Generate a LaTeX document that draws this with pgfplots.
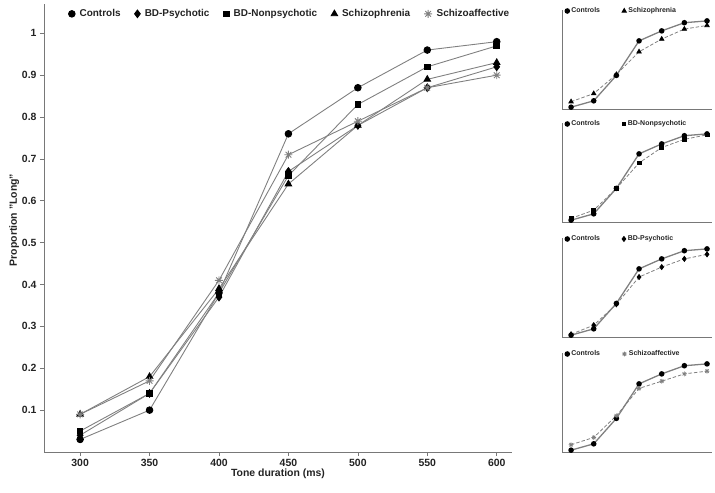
\documentclass[border=0pt]{standalone}
\usepackage{pgfplots}
\pgfplotsset{compat=1.18}
\usepackage{fontspec}
\setmainfont{Liberation Sans}
\definecolor{linegray}{RGB}{128,128,128}
\definecolor{axgray}{RGB}{120,120,120}
\definecolor{txt}{RGB}{35,35,35}
\pgfdeclareplotmark{star8}{%
  \pgfpathmoveto{\pgfqpoint{0pt}{\pgfplotmarksize}}\pgfpathlineto{\pgfqpoint{0pt}{-\pgfplotmarksize}}%
  \pgfpathmoveto{\pgfqpoint{\pgfplotmarksize}{0pt}}\pgfpathlineto{\pgfqpoint{-\pgfplotmarksize}{0pt}}%
  \pgfpathmoveto{\pgfqpoint{0.7071\pgfplotmarksize}{0.7071\pgfplotmarksize}}\pgfpathlineto{\pgfqpoint{-0.7071\pgfplotmarksize}{-0.7071\pgfplotmarksize}}%
  \pgfpathmoveto{\pgfqpoint{0.7071\pgfplotmarksize}{-0.7071\pgfplotmarksize}}\pgfpathlineto{\pgfqpoint{-0.7071\pgfplotmarksize}{0.7071\pgfplotmarksize}}%
  \pgfusepathqstroke}

\pgfplotstableread{
x    C     BDP   BDN   SZ    SA
300  0.03  0.04  0.05  0.09  0.09
350  0.10  0.14  0.14  0.18  0.17
400  0.38  0.37  0.38  0.39  0.41
450  0.76  0.67  0.66  0.64  0.71
500  0.87  0.78  0.83  0.78  0.79
550  0.96  0.87  0.92  0.89  0.87
600  0.98  0.92  0.97  0.93  0.90
}\data

\pgfplotsset{
  common/.style={
    scale only axis,
    axis x line*=bottom, axis y line*=left,
    axis line style={axgray, line width=0.8pt},
    legend image code/.code={\draw[##1] plot[only marks] coordinates {(0.08cm,0cm)};},
    legend style={draw=none, fill=none, inner sep=0pt, text=txt},
  },
  panel/.style={common,
    width=150bp, height=99bp,
    xmin=280, xmax=611, ymin=0.01, ymax=1.1,
    xtick=\empty, ytick=\empty,
    legend columns=2,
    legend style={at={(0.02,0.99)}, anchor=west, font=\fontsize{7}{8}\selectfont\bfseries,
      /tikz/every even column/.append style={column sep=20bp}},
  },
  ctl/.style={linegray, line width=1.3pt, mark=*, mark size=2.1bp, mark options={solid, fill=black, draw=black}},
  oth/.style={linegray, line width=0.8pt, dashed, dash pattern=on 3.5pt off 2pt, mark size=2.1bp, mark options={solid, fill=black, draw=black}},
}

\begin{document}
\begin{tikzpicture}
\useasboundingbox (0,0) rectangle (715bp,493bp);
\begin{axis}[common,
  at={(44bp,41bp)}, anchor=south west,
  width=468bp, height=448bp,
  xmin=274, xmax=611, ymin=0, ymax=1.07,
  xtick={300,350,...,600},
  ytick={0.1,0.2,0.3,0.4,0.5,0.6,0.7,0.8,0.9,1},
  tick align=outside, major tick length=4bp,
  tick style={axgray, line width=0.7pt},
  /pgf/number format/assume math mode=true,
  tick label style={font=\fontsize{10.5}{12}\selectfont\bfseries, text=txt},
  xlabel={Tone duration (ms)},
  ylabel={Proportion "Long"},
  label style={font=\fontsize{10.5}{12}\selectfont\bfseries, text=txt},
  xlabel style={yshift=5bp},
  ylabel style={yshift=-4bp, xshift=8bp},
  legend columns=5,
  legend style={at={(0.052,0.978)}, anchor=west, font=\fontsize{10}{12}\selectfont\bfseries,
    /tikz/every odd column/.append style={column sep=2.5bp},
    /tikz/every even column/.append style={column sep=12bp}},
  every axis plot/.append style={linegray, line width=0.9pt},
]
\addplot[mark=*, mark size=3.3bp, mark options={fill=black, draw=black}] table[x=x, y=C] {\data};
\addlegendentry{Controls}
\addplot[mark=diamond*, mark size=3.8bp, mark options={fill=black, draw=black}] table[x=x, y=BDP] {\data};
\addlegendentry{BD-Psychotic}
\addplot[mark=square*, mark size=2.8bp, mark options={fill=black, draw=black}] table[x=x, y=BDN] {\data};
\addlegendentry{BD-Nonpsychotic}
\addplot[mark=triangle*, mark size=3.7bp, mark options={fill=black, draw=black}] table[x=x, y=SZ] {\data};
\addlegendentry{Schizophrenia}
\addplot[mark=star8, mark size=4bp, mark options={draw=linegray, line width=0.9pt}] table[x=x, y=SA] {\data};
\addlegendentry{Schizoaffective}
\end{axis}

% Panel 1: Controls vs Schizophrenia
\begin{axis}[panel, at={(562bp,384bp)}, anchor=south west]
\addplot[ctl] table[x=x, y=C] {\data};
\addlegendentry{Controls}
\addplot[oth, mark=triangle*, mark size=2.5bp] table[x=x, y=SZ] {\data};
\addlegendentry{Schizophrenia}
\end{axis}

% Panel 2: Controls vs BD-Nonpsychotic
\begin{axis}[panel, at={(562bp,271bp)}, anchor=south west]
\addplot[ctl] table[x=x, y=C] {\data};
\addlegendentry{Controls}
\addplot[oth, mark=square*, mark size=1.9bp] table[x=x, y=BDN] {\data};
\addlegendentry{BD-Nonpsychotic}
\end{axis}

% Panel 3: Controls vs BD-Psychotic
\begin{axis}[panel, at={(562bp,156bp)}, anchor=south west]
\addplot[ctl] table[x=x, y=C] {\data};
\addlegendentry{Controls}
\addplot[oth, mark=diamond*, mark size=2.5bp] table[x=x, y=BDP] {\data};
\addlegendentry{BD-Psychotic}
\end{axis}

% Panel 4: Controls vs Schizoaffective
\begin{axis}[panel, at={(562bp,41bp)}, anchor=south west]
\addplot[ctl] table[x=x, y=C] {\data};
\addlegendentry{Controls}
\addplot[oth, mark=star8, mark size=2.4bp, mark options={solid, draw=linegray, line width=0.7pt}] table[x=x, y=SA] {\data};
\addlegendentry{Schizoaffective}
\end{axis}
\end{tikzpicture}
\end{document}
